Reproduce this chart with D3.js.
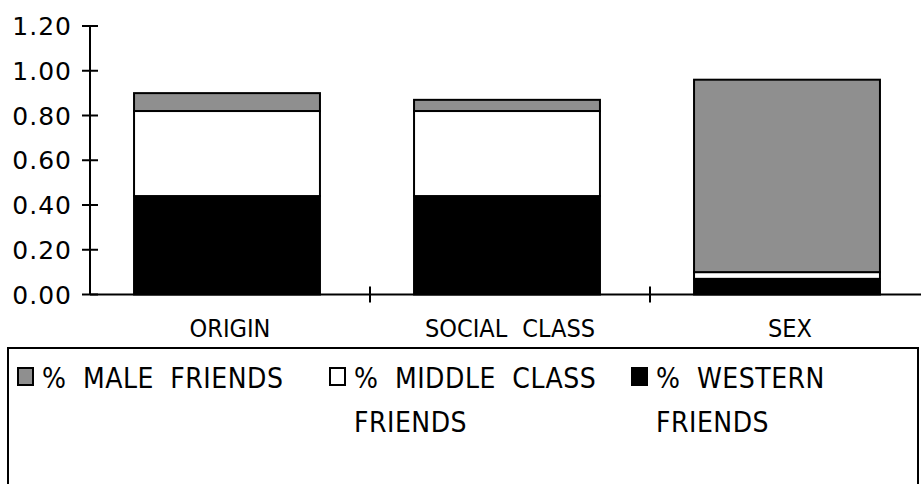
<!DOCTYPE html>
<html>
<head>
<meta charset="utf-8">
<script src="https://cdn.jsdelivr.net/npm/d3@7"></script>
<style>
  html, body { margin: 0; padding: 0; background: #fff; }
  svg { display: block; }
  .tick-label { font-family: "DejaVu Sans", Verdana, sans-serif; font-size: 25px; letter-spacing: 1px; fill: #000; }
  .cat-label { font-family: "DejaVu Sans Condensed", "DejaVu Sans", sans-serif; font-stretch: condensed; font-size: 25px; word-spacing: 8px; fill: #000; }
  .leg-label { font-family: "DejaVu Sans Condensed", "DejaVu Sans", sans-serif; font-stretch: condensed; font-size: 28px; letter-spacing: 0.5px; word-spacing: 8px; fill: #000; }
</style>
</head>
<body>
<script>
// ---- data ----
const categories = ["ORIGIN", "SOCIAL CLASS", "SEX"];
const westernFriends = [0.44, 0.44, 0.07];
const middleClassFriends = [0.38, 0.38, 0.03];
const maleFriends = [0.08, 0.05, 0.86];
const seriesNames = ["% WESTERN FRIENDS", "% MIDDLE CLASS FRIENDS", "% MALE FRIENDS"];
const seriesColors = ["#000000", "#ffffff", "#8f8f8f"];
const yTicks = [0, 0.2, 0.4, 0.6, 0.8, 1.0, 1.2];
const legendOrder = [
  { name: "% MALE FRIENDS", lines: ["% MALE FRIENDS"], color: "#8f8f8f" },
  { name: "% MIDDLE CLASS FRIENDS", lines: ["% MIDDLE CLASS", "FRIENDS"], color: "#ffffff" },
  { name: "% WESTERN FRIENDS", lines: ["% WESTERN", "FRIENDS"], color: "#000000" }
];

const W = 921, H = 484;
const svg = d3.select("body").append("svg").attr("width", W).attr("height", H);

const x0 = 90, y0 = 294.5;
const y = d3.scaleLinear().domain([0, 1.2]).range([y0, 26]);
const x = d3.scaleBand().domain(categories).range([x0, 930]).paddingInner(0.336).paddingOuter(0.168);

// stacked data
const table = categories.map((c, i) => ({
  cat: c,
  western: westernFriends[i],
  middle: middleClassFriends[i],
  male: maleFriends[i]
}));
const keys = ["western", "middle", "male"];
const stacked = d3.stack().keys(keys)(table);

const g = svg.append("g");
stacked.forEach((layer, li) => {
  g.selectAll(null).data(layer).enter().append("rect")
    .attr("x", d => x(d.data.cat) - 3)
    .attr("width", x.bandwidth())
    .attr("y", d => y(d[1]))
    .attr("height", d => Math.max(0, y(d[0]) - y(d[1])))
    .attr("fill", seriesColors[li])
    .attr("stroke", "#000")
    .attr("stroke-width", 2);
});

// axes
const axisG = svg.append("g");
axisG.append("line").attr("x1", x0).attr("x2", W).attr("y1", y0).attr("y2", y0)
  .attr("stroke", "#000").attr("stroke-width", 2);
axisG.append("line").attr("x1", x0).attr("x2", x0).attr("y1", y(1.2)).attr("y2", y0)
  .attr("stroke", "#000").attr("stroke-width", 2);

// y ticks
yTicks.forEach(t => {
  axisG.append("line").attr("x1", x0 - 8).attr("x2", x0 + 8).attr("y1", y(t)).attr("y2", y(t))
    .attr("stroke", "#000").attr("stroke-width", 2);
  axisG.append("text").attr("class", "tick-label")
    .attr("x", 72).attr("y", y(t)).attr("dy", "0.36em")
    .attr("text-anchor", "end")
    .text(d3.format(".2f")(t));
});

// x category boundary ticks
const step = x.step();
categories.forEach((c, i) => {
  const bx = x0 + step * (i + 1);
  if (bx < W) {
    axisG.append("line").attr("x1", bx).attr("x2", bx).attr("y1", y0 - 8).attr("y2", y0 + 8)
      .attr("stroke", "#000").attr("stroke-width", 2);
  }
  axisG.append("text").attr("class", "cat-label")
    .attr("x", x(c) + x.bandwidth() / 2).attr("y", 337)
    .attr("text-anchor", "middle")
    .text(c);
});

// legend
const lg = svg.append("g");
lg.append("rect").attr("x", 8).attr("y", 348).attr("width", 910).attr("height", 160)
  .attr("fill", "none").attr("stroke", "#000").attr("stroke-width", 2);
const legX = [18, 330, 632];
legendOrder.forEach((item, i) => {
  lg.append("rect").attr("x", legX[i]).attr("y", 368).attr("width", 15).attr("height", 17)
    .attr("fill", item.color).attr("stroke", "#000").attr("stroke-width", 2);
  item.lines.forEach((ln, j) => {
    lg.append("text").attr("class", "leg-label")
      .attr("x", legX[i] + 24).attr("y", 388 + j * 44)
      .text(ln);
  });
});
</script>
</body>
</html>
